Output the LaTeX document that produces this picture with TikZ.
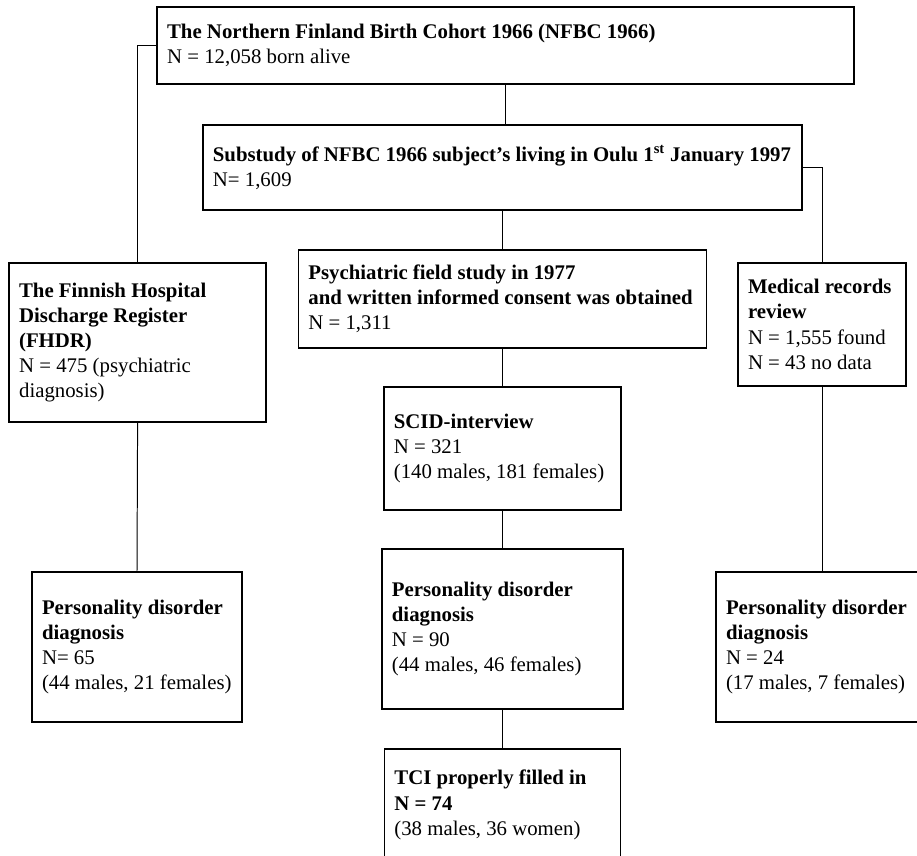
\documentclass[tikz,border=0pt]{standalone}
\usepackage{fontspec}
\setmainfont{Liberation Serif}
\usepackage{tikz}

\begin{document}
\begin{tikzpicture}[box/.style={draw,line width=0.9pt,align=flush left,inner xsep=0.25cm,inner ysep=0pt,font=\fontsize{14.8}{17.9}\selectfont}, link/.style={line width=0.7pt}]
		\useasboundingbox (0,0) rectangle (22.925,-21.375);

		\node[box,text width=16.925cm,minimum height=1.925cm] (nfbc)at(12.64,-1.14) {\textbf{The Northern Finland Birth Cohort 1966 (NFBC 1966)}\\N = 12,058 born alive};
		\node[box,text width=14.475cm,minimum height=2.125cm] (oulu)at(12.56,-4.19) {\textbf{Substudy of NFBC 1966 subject’s living in Oulu 1\textsuperscript{st} January 1997}\\N= 1,609};

		\node[box,text width=5.925cm,minimum height=3.975cm] (fhdr)at(3.44,-8.56) {\textbf{The Finnish Hospital}\\\textbf{Discharge Register}\\\textbf{(FHDR)}\\N = 475 (psychiatric\\diagnosis)};
		\node[box,text width=9.7cm,minimum height=2.45cm] (field)at(12.56,-7.475) {\textbf{Psychiatric field study in 1977}\\\textbf{and written informed consent was obtained}\\N = 1,311};
		\node[box,text width=3.7cm,minimum height=3.075cm] (records)at(20.55,-8.11) {\textbf{Medical records}\\\textbf{review}\\N = 1,555 found\\N = 43 no data};

		\node[box,text width=5.425cm,minimum height=3.075cm] (scid)at(12.56,-11.21) {\textbf{SCID-interview}\\N = 321\\(140 males, 181 females)};

		\node[box,text width=4.75cm,minimum height=3.75cm] (pdl)at(3.425,-16.175) {\textbf{Personality disorder}\\\textbf{diagnosis}\\N= 65\\(44 males, 21 females)};
		\node[box,text width=5.525cm,minimum height=4cm] (pdm)at(12.56,-15.725) {\textbf{Personality disorder}\\\textbf{diagnosis}\\N = 90\\(44 males, 46 females)};
		\node[box,text width=4.8cm,minimum height=3.75cm] (pdr)at(20.55,-16.175) {\textbf{Personality disorder}\\\textbf{diagnosis}\\N = 24\\(17 males, 7 females)};

		\node[box,text width=5.4cm,minimum height=2.8cm] (tci)at(12.56,-20.125) {\textbf{TCI properly filled in}\\\textbf{N = 74}\\(38 males, 36 women)};

		\draw[link] (nfbc.south) -- (nfbc.south |- oulu.north);
		\draw[link] (nfbc.west) -| (fhdr.north);
		\draw[link] (oulu.east) -| (records.north);
		\draw[link] (oulu.south) -- (field.north);
		\draw[link] (field.south) -- (scid.north);
		\draw[link] (scid.south) -- (pdm.north);
		\draw[link] (pdm.south) -- (tci.north);
		\draw[link] (fhdr.south) -- (pdl.north);
		\draw[link] (records.south) -- (pdr.north);

\end{tikzpicture}
\end{document}
